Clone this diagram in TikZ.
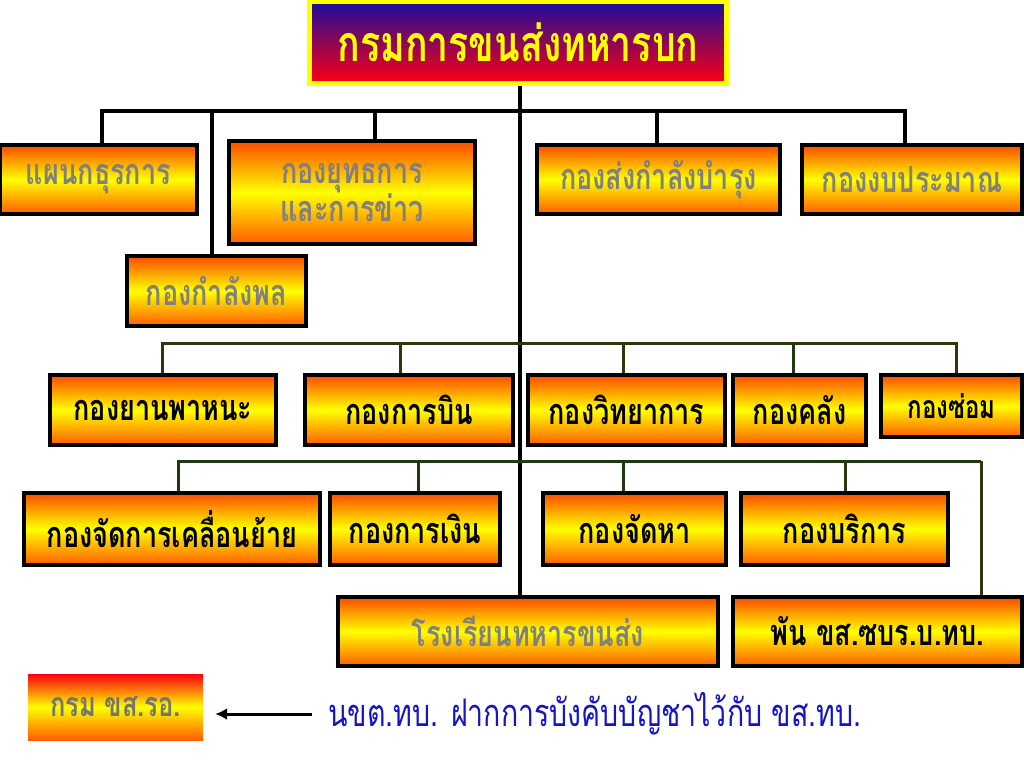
\documentclass[tikz,border=0pt]{standalone}
\usepackage{fontspec}
\newfontfamily\thai[Script=Thai,FakeStretch=0.75]{Loma}
\usetikzlibrary{arrows.meta}
\definecolor{orr}{HTML}{FF4A00}
\definecolor{orb}{HTML}{FF5C00}
\definecolor{yel}{HTML}{FFFF00}
\definecolor{tgray}{HTML}{808080}
\definecolor{tblue}{HTML}{1414C8}
\definecolor{olive}{HTML}{34340C}
\definecolor{dgreen}{HTML}{1C3A10}
\definecolor{tblu}{HTML}{1C0C9C}
\definecolor{tred}{HTML}{FF0010}
\tikzset{
  box/.style={draw=black, line width=3.5pt, top color=orr, bottom color=orb, middle color=yel,
    inner sep=0pt, align=center, font=\thai\bfseries\fontsize{36}{40}\selectfont},
  gtx/.style={text=tgray},
  btx/.style={text=black},
  conn/.style={line width=4pt, black, line join=miter},
  conn2/.style={line width=3pt, olive, line join=miter},
  conn3/.style={line width=3pt, dgreen, line join=miter},
}
\begin{document}
\begin{tikzpicture}[x=1pt,y=-1pt]
\useasboundingbox[fill=white] (0,0) rectangle (1024,768);
% title
\node[draw=yel, line width=5pt, top color=tblu, bottom color=tred, middle color=tblu!50!tred,
  minimum width=417, minimum height=82, inner sep=0pt, text=yel,
  font=\thai\bfseries\fontsize{50}{54}\selectfont] (title) at (518,42.5) {กรมการขนส่งทหารบก};
% row 1
\node[box,gtx,minimum width=197,minimum height=69] (n1) at (98.5,179.5) {แผนกธุรการ};
\node[box,gtx,minimum width=246,minimum height=103] (n2) at (352,192.5) {กองยุทธการ\\[-2pt]และการข่าว};
\node[box,gtx,minimum width=179,minimum height=70] (n3) at (216.5,291) {กองกำลังพล};
\node[box,gtx,minimum width=243,minimum height=69] (n4) at (658.5,179.5) {กองส่งกำลังบำรุง};
\node[box,gtx,minimum width=220,minimum height=69] (n5) at (912,179.5) {กองงบประมาณ};
% row 2
\node[box,btx,minimum width=226,minimum height=70] (m1) at (163,410) {กองยานพาหนะ};
\node[box,btx,minimum width=208,minimum height=70] (m2) at (409,410) {กองการบิน};
\node[box,btx,minimum width=197,minimum height=70] (m3) at (626.5,410) {กองวิทยาการ};
\node[box,btx,minimum width=133,minimum height=70] (m4) at (799.5,410) {กองคลัง};
\node[box,btx,minimum width=141,minimum height=62,font=\thai\bfseries\fontsize{32}{36}\selectfont] (m5) at (951.5,406) {กองซ่อม};
% row 3
\node[box,btx,minimum width=296,minimum height=72] (k1) at (172,529) {กองจัดการเคลื่อนย้าย};
\node[box,btx,minimum width=170,minimum height=72] (k2) at (415,529) {กองการเงิน};
\node[box,btx,minimum width=183,minimum height=72] (k3) at (634.5,529) {กองจัดหา};
\node[box,btx,minimum width=207,minimum height=72] (k4) at (844.5,529) {กองบริการ};
% row 4
\node[box,gtx,minimum width=380,minimum height=69] (s1) at (528,631.5) {โรงเรียนทหารขนส่ง};
\node[box,btx,minimum width=289,minimum height=69] (s2) at (877.5,631.5) {พัน ขส.ซบร.บ.ทบ.};
% bottom
\node[top color=tred, bottom color=orb, middle color=yel, minimum width=175, minimum height=66,
  inner sep=0pt, text=tgray!85!olive, font=\thai\bfseries\fontsize{34}{38}\selectfont] (rr) at (115.5,707) {กรม ขส.รอ.};
\node[anchor=west, inner sep=0pt, text=tblue, font=\thai\fontsize{38}{42}\selectfont] (note) at (328,714) {นขต.ทบ. ฝากการบังคับบัญชาไว้กับ ขส.ทบ.};
\draw[line width=3pt, -{Latex[length=12pt,width=12pt]}, shorten <=16pt, shorten >=12pt] (note.west) -- (rr.east |- note.west);
% main trunk
\draw[conn] (title.south -| 520,0) -- (520,0 |- s1.north);
% row 1 connectors
\draw[conn] (102,0 |- n1.north) -- (102,111) -- (905,111) -- (905,0 |- n5.north);
\draw[conn] (375,111) -- (375,0 |- n2.north);
\draw[conn] (657,111) -- (657,0 |- n4.north);
\draw[conn] (212,111) -- (212,0 |- n3.north);
% row 2 connectors
\draw[conn2] (162,0 |- m1.north) -- (162,343) -- (956,343) -- (956,0 |- m5.north);
\draw[conn2] (400,343) -- (400,0 |- m2.north);
\draw[conn2] (623,343) -- (623,0 |- m3.north);
\draw[conn3] (793,343) -- (793,0 |- m4.north);
% row 3 connectors
\draw[conn3] (178,0 |- k1.north) -- (178,461) -- (981,461);
\draw[conn3] (418,461) -- (418,0 |- k2.north);
\draw[conn3] (623,461) -- (623,0 |- k3.north);
\draw[conn2] (845,461) -- (845,0 |- k4.north);
\draw[conn2] (981,461) -- (981,0 |- s2.north);
\end{tikzpicture}
\end{document}
